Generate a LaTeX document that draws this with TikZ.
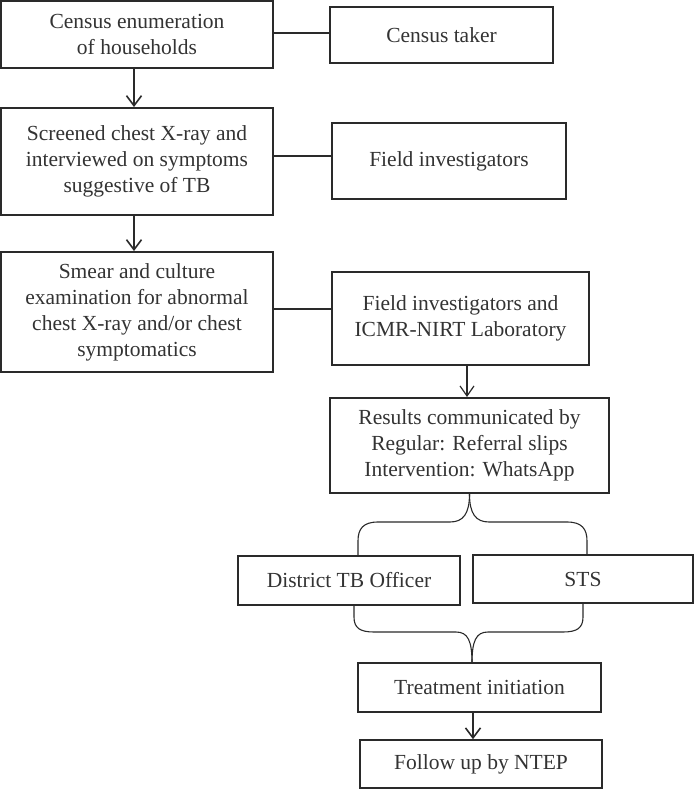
\documentclass[tikz,border=0pt]{standalone}
\usepackage{fontspec}
\setmainfont{Liberation Serif}
\usetikzlibrary{arrows.meta}
\definecolor{ink}{HTML}{2A2A2A}
\definecolor{txt}{HTML}{333333}
\tikzset{
  box/.style={draw=ink, line width=1.6pt, rectangle, inner sep=0pt, align=center,
    text=txt, font=\fontsize{21.5}{26}\selectfont},
  thickbox/.style={box, line width=2pt},
  link/.style={draw=ink, line width=1.2pt},
  arr/.style={draw=ink, line width=1.6pt, -{Straight Barb[length=10pt,width=15pt,line width=1.6pt]}},
  thinarr/.style={draw=ink, line width=1.2pt, -{Straight Barb[length=10pt,width=14pt,line width=1.2pt]}},
  brace/.style={draw=ink, line width=1.1pt}
}
\begin{document}
\begin{tikzpicture}[x=1pt,y=-1pt]
\useasboundingbox (0,0) rectangle (694,790);
\node[thickbox, minimum width=272pt, minimum height=67pt] (b1) at (137,34.5) {Census enumeration\\of households};
\node[box, minimum width=223pt, minimum height=56pt] (ct) at (441.5,35) {Census taker};
\node[thickbox, minimum width=272pt, minimum height=107pt] (b2) at (137,161.5) {Screened chest X-ray and\\interviewed on symptoms\\suggestive of TB};
\node[box, minimum width=234pt, minimum height=76pt] (fi) at (449,161) {Field investigators};
\node[thickbox, minimum width=272pt, minimum height=120pt] (b3) at (137,312) {Smear and culture\\examination for abnormal\\chest X-ray and/or chest\\symptomatics};
\node[thickbox, minimum width=257pt, minimum height=93pt] (fil) at (460.5,318.5) {Field investigators and\\ICMR-NIRT Laboratory};
\node[thickbox, minimum width=279pt, minimum height=95pt] (res) at (469.5,445.5) {Results communicated by\\Regular: Referral slips\\Intervention: WhatsApp};
\node[box, minimum width=222pt, minimum height=49pt] (dto) at (349,580.5) {District TB Officer};
\node[box, minimum width=220pt, minimum height=48pt] (sts) at (583,579) {STS};
\node[box, minimum width=243pt, minimum height=49pt] (ti) at (479.5,687.5) {Treatment initiation};
\node[box, minimum width=242pt, minimum height=48pt] (fu) at (481,764) {Follow up by NTEP};

% side links
\draw[link] (b1.east |- 0,33) -- (ct.west |- 0,33);
\draw[link] (b2.east |- 0,156) -- (fi.west |- 0,156);
\draw[link] (b3.east |- 0,309) -- (fil.west |- 0,309);

% arrows
\draw[arr] (b1.south -| 134,0) -- (b2.north -| 134,0);
\draw[arr] (b2.south -| 134,0) -- (b3.north -| 134,0);
\draw[thinarr] (fil.south -| 467,0) -- (res.north -| 467,0);
\draw[arr] (ti.south -| 473,0) -- (fu.north -| 473,0);

% upper brace
\coordinate (ut) at (res.south);
\coordinate (ul) at (358,555);
\coordinate (ur) at (587,554);
\draw[brace] (ut) .. controls (469.5,514) and (463,522) .. (450,522) -- (378,522)
  .. controls (363,522) and (358,529) .. (358,541) -- (ul);
\draw[brace] (ut) .. controls (469.5,514) and (476,522) .. (489,522) -- (567,522)
  .. controls (582,522) and (587,529) .. (587,541) -- (ur);

% lower brace
\coordinate (lt) at (472,663);
\coordinate (ll) at (354,606);
\coordinate (lr) at (583,604);
\draw[brace] (ll) -- (354,617) .. controls (354,628) and (360,632) .. (374,632) -- (456,632)
  .. controls (468,632) and (472,641) .. (lt);
\draw[brace] (lr) -- (583,617) .. controls (583,628) and (577,632) .. (563,632) -- (488,632)
  .. controls (476,632) and (472,641) .. (lt);
\end{tikzpicture}
\end{document}
